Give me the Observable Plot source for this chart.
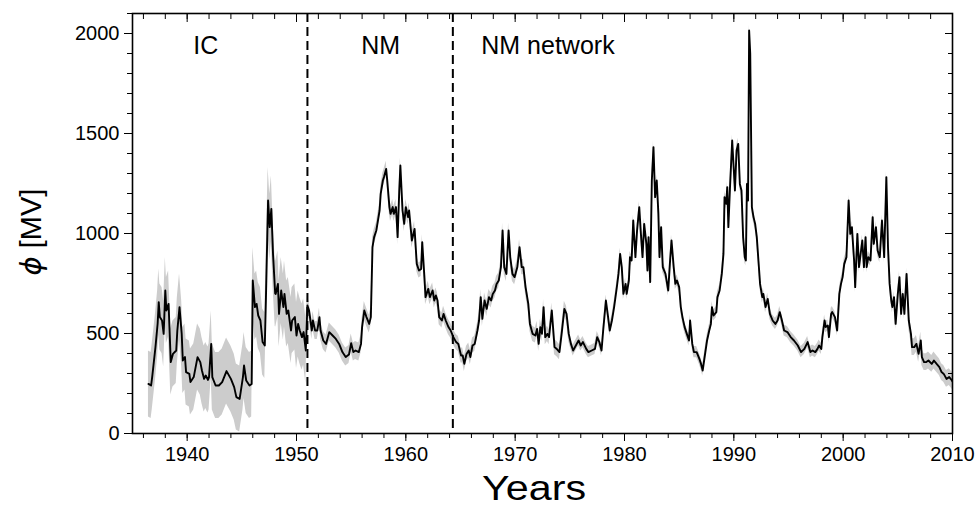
<!DOCTYPE html>
<html><head><meta charset="utf-8">
<script src="https://cdn.jsdelivr.net/npm/d3@7"></script>
<script src="https://cdn.jsdelivr.net/npm/@observablehq/plot@0.6"></script>
<style>body{margin:0;background:#fff}</style>
</head><body><div id="chart"></div>
<script>
// Modulation potential series (year, phi in MV)
const years = [
1936.46,1936.7,1936.8,1937.1,1937.3,1937.4,1937.5,1937.7,1937.85,1938.0,1938.1,1938.3,1938.5,1938.7,1939.0,1939.1,1939.3,1939.5,1939.6,1939.8,1939.9,
1940.2,1940.3,1940.6,1940.95,1941.2,1941.35,1941.55,1941.7,1941.9,1942.0,1942.2,1942.3,1942.6,1942.9,1943.2,1943.6,1944.0,1944.3,1944.5,1944.8,
1945.1,1945.2,1945.4,1945.7,1945.9,1946.0,1946.2,1946.35,1946.5,1946.7,1946.9,1947.1,1947.2,1947.4,1947.55,1947.7,1947.85,1948.05,1948.1,1948.3,
1948.4,1948.6,1948.8,1948.9,1949.1,1949.25,1949.5,1949.6,1949.85,1950.0,1950.15,1950.3,1950.5,1950.65,1950.85,1951.0,1951.15,1951.4,1951.5,1951.7,
1951.9,1952.1,1952.2,1952.45,1952.7,1953.0,1953.3,1953.6,1953.9,1954.2,1954.5,1954.8,1955.0,1955.2,1955.4,1955.7,1955.9,1956.0,1956.2,1956.4,
1956.65,1956.8,1956.95,1957.1,1957.3,1957.4,1957.6,1957.7,1957.9,1958.0,1958.2,1958.3,1958.5,1958.6,1958.8,1958.9,1959.1,1959.25,1959.4,1959.5,
1959.7,1959.85,1960.0,1960.2,1960.3,1960.55,1960.8,1961.0,1961.2,1961.4,1961.5,1961.7,1961.8,1962.05,1962.2,1962.45,1962.6,1962.75,1962.9,1963.05,
1963.3,1963.45,1963.65,1963.9,1964.1,1964.35,1964.6,1964.8,1965.05,1965.2,1965.35,1965.55,1965.75,1965.9,1966.1,1966.3,1966.55,1966.7,1966.85,1967.0,
1967.2,1967.4,1967.6,1967.8,1967.95,1968.15,1968.3,1968.5,1968.7,1968.85,1969.0,1969.2,1969.4,1969.55,1969.75,1969.95,1970.2,1970.4,1970.6,1970.75,
1970.95,1971.2,1971.35,1971.6,1971.85,1972.0,1972.15,1972.3,1972.45,1972.6,1972.75,1972.95,1973.1,1973.35,1973.6,1973.8,1974.05,1974.25,1974.5,1974.7,
1974.9,1975.1,1975.3,1975.55,1975.8,1976.0,1976.2,1976.5,1976.7,1977.0,1977.3,1977.5,1977.7,1977.9,1978.05,1978.3,1978.5,1978.65,1978.85,1979.05,
1979.3,1979.45,1979.6,1979.75,1979.9,1980.1,1980.2,1980.4,1980.5,1980.65,1980.8,1981.0,1981.15,1981.35,1981.5,1981.65,1981.8,1982.0,1982.1,1982.2,
1982.35,1982.5,1982.65,1982.8,1982.95,1983.1,1983.2,1983.35,1983.5,1983.75,1984.0,1984.15,1984.3,1984.5,1984.65,1984.8,1985.0,1985.15,1985.3,1985.5,
1985.7,1985.9,1986.0,1986.2,1986.35,1986.6,1986.85,1987.0,1987.15,1987.35,1987.55,1987.75,1987.9,1988.0,1988.15,1988.4,1988.5,1988.7,1988.9,1989.05,
1989.15,1989.3,1989.4,1989.5,1989.65,1989.85,1989.95,1990.1,1990.25,1990.4,1990.55,1990.7,1990.85,1991.0,1991.1,1991.2,1991.3,1991.4,1991.5,1991.65,
1991.8,1991.95,1992.1,1992.25,1992.4,1992.6,1992.7,1992.9,1993.1,1993.3,1993.55,1993.8,1994.0,1994.2,1994.4,1994.6,1994.9,1995.2,1995.5,1995.85,
1996.15,1996.45,1996.75,1997.0,1997.2,1997.45,1997.65,1997.8,1998.0,1998.1,1998.3,1998.4,1998.6,1998.7,1998.9,1999.0,1999.25,1999.45,1999.65,1999.8,
1999.95,2000.1,2000.3,2000.5,2000.65,2000.8,2001.0,2001.1,2001.3,2001.45,2001.6,2001.75,2001.9,2002.05,2002.15,2002.3,2002.5,2002.7,2002.8,2003.0,
2003.15,2003.35,2003.55,2003.75,2003.95,2004.1,2004.25,2004.4,2004.5,2004.65,2004.8,2005.0,2005.15,2005.3,2005.45,2005.6,2005.8,2006.0,2006.2,2006.3,
2006.5,2006.7,2006.9,2007.1,2007.2,2007.4,2007.6,2007.8,2008.1,2008.3,2008.55,2008.8,2009.0,2009.2,2009.45,2009.7,2009.95,2010.0
];
const phi = [
248,240,282,432,550,657,582,565,498,715,615,648,357,398,415,515,632,498,365,382,307,
298,257,282,382,357,315,273,290,268,282,448,282,240,240,257,312,273,232,182,173,
282,340,265,240,248,765,632,648,590,565,457,440,665,1165,1032,1123,900,700,698,748,
598,715,632,698,598,615,515,565,582,490,548,515,482,507,415,640,615,515,565,515,
515,582,515,465,448,507,490,473,448,407,382,395,452,407,415,407,448,532,615,582,
548,582,932,982,1015,1048,1115,1198,1265,1282,1323,1265,1132,1098,1132,1098,1132,982,1215,1340,
1115,1048,1132,1082,1115,965,1023,848,815,823,957,782,682,723,682,715,665,690,665,582,
565,598,565,532,515,482,457,448,390,390,348,398,415,382,440,448,515,565,682,573,
665,623,682,665,698,715,748,765,832,1015,832,798,1015,882,798,782,832,932,832,832,
732,648,548,498,490,523,448,532,498,632,482,498,482,615,432,423,407,498,623,598,
498,448,415,440,465,440,457,423,407,415,423,482,457,415,515,665,582,515,565,632,
732,798,898,832,698,748,698,765,882,865,1065,882,1015,1132,998,882,1048,948,815,982,
757,1265,1432,1182,1265,1098,882,1032,832,798,715,848,965,832,748,765,732,632,582,532,
498,465,565,448,407,407,373,348,315,390,465,515,548,632,590,607,682,715,798,898,
1182,1148,1232,1032,1232,1465,1365,1215,1415,1448,1248,1215,982,882,865,1248,1165,2015,1898,1132,
1082,1048,982,865,748,682,698,632,673,598,565,548,565,607,565,515,507,482,465,440,
407,423,457,407,415,407,423,440,423,482,565,532,540,482,598,607,582,515,698,748,
782,848,882,1165,998,1032,865,732,998,832,898,965,832,982,832,882,865,1082,948,1032,
915,882,1065,882,1282,932,748,665,632,682,548,698,782,598,698,598,798,565,498,432,
432,448,398,465,382,357,357,365,348,365,348,332,307,298,273,282,265,260
];
// Uncertainty band half-width by era (era end year, half-width in MV)
const bandEraEnd = [1951, 1957, 1975, 2006, 2011];
const bandHalfWidth = [165, 45, 38, 28, 42];

const xMajorTicks = [1940, 1950, 1960, 1970, 1980, 1990, 2000, 2010];
const xMinorTicks = [1936,1938,1940,1942,1944,1946,1948,1950,1952,1954,1956,1958,1960,1962,1964,1966,1968,1970,1972,1974,1976,1978,1980,1982,1984,1986,1988,1990,1992,1994,1996,1998,2000,2002,2004,2006,2008,2010];
const yMajorTicks = [0, 500, 1000, 1500, 2000];
const yMinorTicks = [0,100,200,300,400,500,600,700,800,900,1000,1100,1200,1300,1400,1500,1600,1700,1800,1900,2000,2100];
const dividers = [1951, 1964.3];
const eraNames = ["IC", "NM", "NM network"];
const eraYears = [1941.7, 1957.7, 1973.0];
const eraValue = 1940;

const rows = years.map((x, i) => {
  const hw = bandHalfWidth[bandEraEnd.findIndex(e => x < e)];
  return {x, y: phi[i], lo: phi[i] - hw, hi: phi[i] + hw};
});
const eras = eraNames.map((name, i) => ({name, x: eraYears[i], y: eraValue}));

const font = "'Liberation Sans', Arial, Helvetica, sans-serif";
const noLabel = () => "";
const chart = Plot.plot({
  width: 977, height: 506,
  marginLeft: 132, marginRight: 25, marginTop: 13, marginBottom: 73,
  style: {fontFamily: font, fontSize: "20px", color: "#000", background: "#fff", overflow: "visible"},
  x: {domain: [1935, 2010]},
  y: {domain: [0, 2100]},
  marks: [
    Plot.areaY(rows, {x: "x", y1: "lo", y2: "hi", fill: "#cccccc", clip: true}),
    Plot.lineY(rows, {x: "x", y: "y", stroke: "#000", strokeWidth: 1.9, clip: true}),
    Plot.ruleX(dividers, {stroke: "#000", strokeWidth: 2, strokeDasharray: "9,5"}),
    Plot.text(eras, {x: "x", y: "y", text: "name", fontSize: 25, fill: "#000"}),
    Plot.axisX(xMinorTicks, {anchor: "bottom", tickSize: 5, tickFormat: noLabel, label: null}),
    Plot.axisX(xMajorTicks, {anchor: "bottom", tickSize: 8, tickPadding: 5, tickFormat: d => String(d), label: null}),
    Plot.axisX(xMinorTicks, {anchor: "top", tickSize: -5, tickFormat: noLabel, label: null}),
    Plot.axisX(xMajorTicks, {anchor: "top", tickSize: -8, tickFormat: noLabel, label: null}),
    Plot.axisY(yMinorTicks, {anchor: "left", tickSize: 5, tickFormat: noLabel, label: null}),
    Plot.axisY(yMajorTicks, {anchor: "left", tickSize: 8, tickPadding: 5, tickFormat: d => String(d), label: null}),
    Plot.axisY(yMinorTicks, {anchor: "right", tickSize: -5, tickFormat: noLabel, label: null}),
    Plot.axisY(yMajorTicks, {anchor: "right", tickSize: -8, tickFormat: noLabel, label: null}),
    Plot.frame({stroke: "#000", strokeWidth: 1.6})
  ]
});
const svg = d3.select(chart);
svg.append("text")
  .attr("transform", "translate(534,500) scale(1.18,1)")
  .attr("text-anchor", "middle")
  .attr("font-family", font).attr("font-size", 35).attr("fill", "#000")
  .text("Years");
const yl = svg.append("text")
  .attr("transform", "translate(41,232) rotate(-90)")
  .attr("text-anchor", "middle")
  .attr("font-family", font).attr("font-size", 29).attr("fill", "#000");
yl.append("tspan").attr("font-style", "italic").attr("font-family", "'DejaVu Sans', sans-serif").attr("font-weight", 300).text("ϕ");
yl.append("tspan").text(" [MV]");
document.getElementById("chart").appendChild(chart);
</script>
</body></html>
